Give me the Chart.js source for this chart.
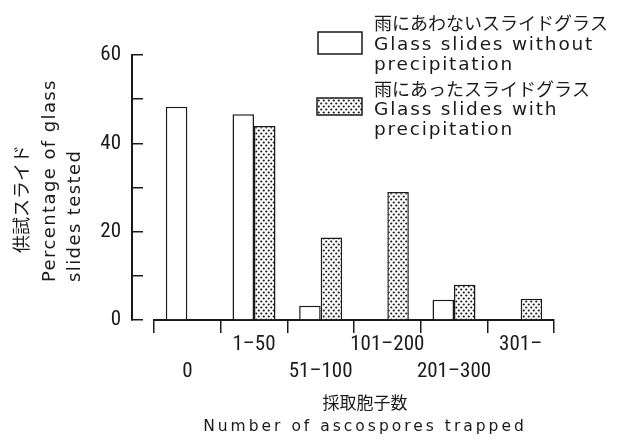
<!DOCTYPE html>
<html>
<head>
<meta charset="utf-8">
<script src="https://cdn.jsdelivr.net/npm/chart.js@4.4.0/dist/chart.umd.min.js"></script>
<style>
  body { margin: 0; background: #fff; }
  #wrap { width: 631px; height: 441px; }
</style>
</head>
<body>
<div id="wrap"><canvas id="myChart" width="631" height="441"></canvas></div>
<script>
// spore count classes on the x axis
const categories = ['0', '1–50', '51–100', '101–200', '201–300', '301–'];
// percentage of slides
const withoutRain = [48.3, 46.6, 3.2, 0, 4.6, 0];
const withRain = [0, 43.9, 18.7, 29.0, 8.0, 4.8];
const yLabelled = [0, 20, 40, 60];

const legendJa = ['雨にあわないスライドグラス', '雨にあったスライドグラス'];
const legendEn = [['Glass slides without', 'precipitation'], ['Glass slides with', 'precipitation']];
const yTitle = ['供試スライド', 'Percentage of glass', 'slides tested'];
const xTitle = ['採取胞子数', 'Number of ascospores trapped'];

const ink = '#1a1a1a';
const tickFont = {
  family: "'Liberation Sans Narrow', 'Roboto Condensed', 'DejaVu Sans Condensed', sans-serif",
  size: 21,
  lineHeight: 1.25
};

const canvas = document.getElementById('myChart');
const ctx = canvas.getContext('2d');

// stippled fill used for the "with precipitation" bars
function dotPattern() {
  const c = document.createElement('canvas');
  c.width = 5; c.height = 6;
  const g = c.getContext('2d');
  g.fillStyle = '#fff';
  g.fillRect(0, 0, 5, 6);
  g.fillStyle = ink;
  [[1.25, 1.5], [3.75, 4.5]].forEach(([x, y]) => {
    g.beginPath();
    g.arc(x, y, 1.1, 0, Math.PI * 2);
    g.fill();
  });
  return ctx.createPattern(c, 'repeat');
}
const dots = dotPattern();

// the y axis sits a little left of the first category, as in the original
const shiftAxis = {
  id: 'shiftAxis',
  afterLayout(chart) {
    const y = chart.scales.y;
    y.left -= 22;
    y.right -= 22;
  }
};

// legend + axis titles (multi-line, mixed scripts)
const figText = {
  id: 'figText',
  afterDraw(chart) {
    const c = chart.ctx;
    c.save();
    c.strokeStyle = ink;
    c.lineWidth = 1.5;
    c.textAlign = 'left';
    c.textBaseline = 'alphabetic';

    // legend boxes
    c.fillStyle = '#fff';
    c.fillRect(318, 32, 44, 22);
    c.strokeRect(318, 32, 44, 22);
    c.fillStyle = dots;
    c.fillRect(317, 98, 45, 17);
    c.strokeRect(317, 98, 45, 17);
    c.fillStyle = ink;

    const baselines = [[30, 50, 70], [96, 115, 135]];
    legendJa.forEach((t, i) => {
      c.letterSpacing = '0px';
      c.font = '18px "Noto Sans CJK JP"';
      c.fillText(t, 374, baselines[i][0]);
      c.font = '18.5px "DejaVu Sans"';
      c.letterSpacing = '1.8px';
      c.fillText(legendEn[i][0], 374, baselines[i][1]);
      c.fillText(legendEn[i][1], 374, baselines[i][2]);
    });

    // x title
    c.textAlign = 'center';
    c.letterSpacing = '0px';
    c.font = '17px "Noto Sans CJK JP"';
    c.fillText(xTitle[0], 365, 409);
    c.font = '15.5px "DejaVu Sans"';
    c.letterSpacing = '3px';
    c.fillText(xTitle[1], 365, 431);

    // y title, rotated
    c.textAlign = 'left';
    const yLines = [
      { x: 28, y: 253, font: '18px "Noto Sans CJK JP"', sp: '0px' },
      { x: 55, y: 282, font: '18px "DejaVu Sans"', sp: '1.4px' },
      { x: 80, y: 282, font: '18px "DejaVu Sans"', sp: '1.4px' }
    ];
    yLines.forEach((l, i) => {
      c.save();
      c.translate(l.x, l.y);
      c.rotate(-Math.PI / 2);
      c.font = l.font;
      c.letterSpacing = l.sp;
      c.fillText(yTitle[i], 0, 0);
      c.restore();
    });
    c.restore();
  }
};

new Chart(ctx, {
  type: 'bar',
  data: {
    labels: categories.map((c, i) => (i % 2 ? [c, ''] : ['', c])),
    datasets: [{
      label: 'Glass slides without precipitation',
      data: withoutRain,
      backgroundColor: '#fff',
      borderColor: ink,
      borderWidth: 1.5
    }, {
      label: 'Glass slides with precipitation',
      data: withRain,
      backgroundColor: dots,
      borderColor: ink,
      borderWidth: 1.5
    }]
  },
  options: {
    responsive: false,
    animation: false,
    devicePixelRatio: 1,
    layout: { padding: { top: 55, right: 77, left: 0, bottom: 0 } },
    datasets: { bar: { barPercentage: 1, categoryPercentage: 0.645 } },
    plugins: { legend: { display: false }, tooltip: { enabled: false } },
    scales: {
      x: {
        position: 'bottom',
        afterFit: s => { s.height = 121; },
        grid: { offset: true, drawOnChartArea: false, color: ink, lineWidth: 1.5, tickLength: 13 },
        border: { color: ink, width: 2 },
        ticks: { color: ink, font: tickFont, padding: -1, autoSkip: false, maxRotation: 0 }
      },
      y: {
        position: 'left',
        min: 0,
        max: 60,
        afterFit: s => { s.width = 154; },
        grid: { drawOnChartArea: false, color: ink, lineWidth: 1.5, tickLength: -11 },
        border: { color: ink, width: 2 },
        ticks: {
          stepSize: 10,
          color: ink,
          font: tickFont,
          padding: 22,
          callback: v => (yLabelled.includes(v) ? v : '')
        }
      }
    }
  },
  plugins: [shiftAxis, figText]
});
</script>
</body>
</html>
